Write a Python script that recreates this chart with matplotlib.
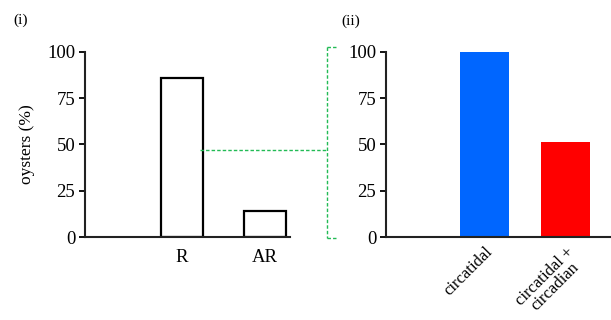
import matplotlib
matplotlib.use("Agg")
import matplotlib.pyplot as plt
from matplotlib.lines import Line2D

# Data
left_categories = ["R", "AR"]
left_values = [86, 14]
right_categories = ["circatidal", "circatidal +\ncircadian"]
right_values = [100, 51]
right_colors = ["#0066ff", "#ff0000"]
yticks = [0, 25, 50, 75, 100]
link_value = 47

plt.rcParams['font.family'] = ['Liberation Serif', 'DejaVu Serif']

W, H = 611, 320
fig = plt.figure(figsize=(W / 100, H / 100), dpi=100)

def frac(x0, y0, x1, y1):
    return [x0 / W, 1 - y1 / H, (x1 - x0) / W, (y1 - y0) / H]

axL = fig.add_axes(frac(85, 51.7, 290, 237))
axR = fig.add_axes(frac(386, 51.7, 610, 237))

for ax in (axL, axR):
    ax.set_ylim(0, 100)
    ax.set_yticks(yticks)
    ax.tick_params(axis='y', direction='out', length=4, width=1.3, labelsize=13.5, pad=3)
    ax.tick_params(axis='x', length=0, labelsize=13.5, pad=9)
    for s in ("top", "right"):
        ax.spines[s].set_visible(False)
    for s in ("left", "bottom"):
        ax.spines[s].set_linewidth(1.5)
        ax.spines[s].set_color("#222222")

posL = list(range(1, len(left_categories) + 1))
axL.bar(posL, left_values, width=0.5, color="white", edgecolor="black", linewidth=1.6)
axL.set_xlim(-0.169, 2.30)
axL.set_xticks(posL)
axL.set_xticklabels(left_categories)
axL.set_ylabel("oysters (%)", fontsize=12.5, labelpad=9)

posR = list(range(1, len(right_categories) + 1))
axR.bar(posR, right_values, width=0.6, color=right_colors)
axR.set_xlim(-0.216, 2.55)
axR.set_xticks(posR)
axR.set_xticklabels(right_categories, rotation=45, ha="right", va="top",
                    rotation_mode="anchor", multialignment="center", fontsize=12,
                    linespacing=0.95)
axR.tick_params(axis='x', pad=5)

fig.text(13 / W, 1 - 24 / H, "(i)", fontsize=11)
fig.text(341 / W, 1 - 25 / H, "(ii)", fontsize=11)

# green dashed linking bracket
g = "#22bb55"
y_link = 237 - link_value / 100 * 185.3
segs = [
    ([200, 327], [y_link, y_link]),
    ([327, 327], [47, 238]),
    ([327, 336], [47, 47]),
    ([327, 336], [238, 238]),
]
for xs, ys in segs:
    fig.add_artist(Line2D([x / W for x in xs], [1 - y / H for y in ys],
                          color=g, linestyle=(0, (2.5, 1.5)), linewidth=1.0))

fig.savefig("out.png", dpi=100)
